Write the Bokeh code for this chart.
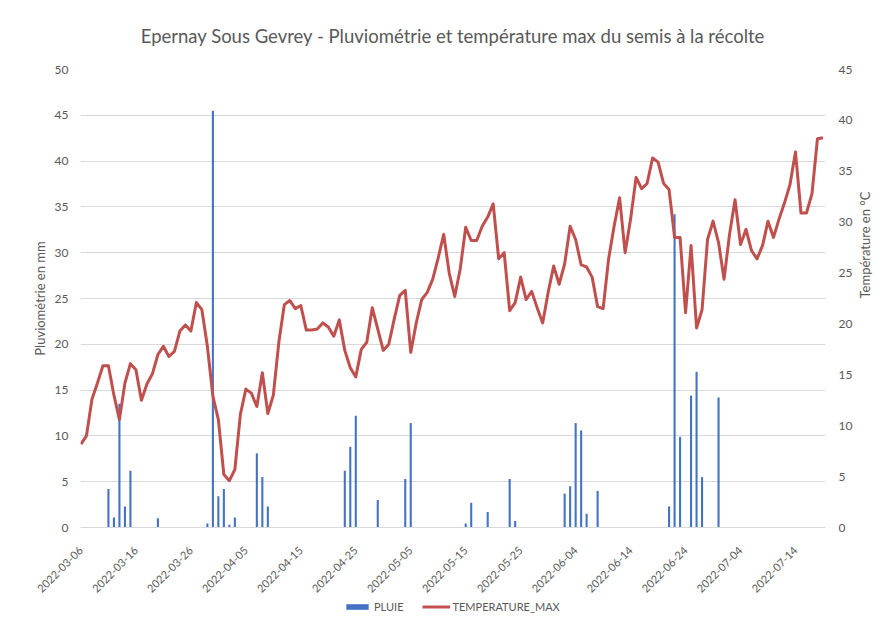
import pandas as pd
from math import pi
from bokeh.plotting import figure
from bokeh.layouts import column
from bokeh.models import (Range1d, LinearAxis, FixedTicker, DatetimeTickFormatter,
                          Legend, LegendItem, ColumnDataSource)
from bokeh.embed import file_html
from bokeh.resources import INLINE

# ---------------- data ----------------
start_date = "2022-03-06"
temp_max = [8.2, 9.0, 12.6, 14.2, 15.9, 15.9, 13.0, 10.6, 14.2, 16.1,
            15.5, 12.5, 14.1, 15.1, 17.0, 17.8, 16.8, 17.3, 19.3, 19.9,
            19.3, 22.1, 21.4, 17.8, 12.9, 10.6, 5.2, 4.6, 5.7, 11.1,
            13.6, 13.2, 11.9, 15.2, 11.2, 13.0, 18.2, 21.9, 22.3, 21.5,
            21.8, 19.4, 19.4, 19.5, 20.1, 19.7, 18.8, 20.4, 17.4, 15.7,
            14.8, 17.5, 18.2, 21.6, 19.5, 17.4, 18.0, 20.5, 22.8, 23.3,
            17.2, 20.1, 22.4, 23.1, 24.4, 26.5, 28.8, 25.0, 22.7, 25.4,
            29.5, 28.2, 28.2, 29.6, 30.5, 31.8, 26.4, 27.0, 21.3, 22.1,
            24.6, 22.4, 23.2, 21.6, 20.1, 23.1, 25.7, 23.9, 25.9, 29.6,
            28.3, 25.8, 25.6, 24.6, 21.7, 21.5, 26.4, 29.6, 32.4, 27.0,
            30.3, 34.4, 33.3, 33.8, 36.3, 35.9, 33.8, 33.2, 28.5, 28.5,
            21.1, 27.7, 19.6, 21.4, 28.3, 30.1, 28.0, 24.4, 28.8, 32.2,
            27.8, 29.3, 27.2, 26.4, 27.7, 30.1, 28.5, 30.3, 31.9, 33.7,
            36.9, 30.9, 30.9, 32.8, 38.2, 38.3]

rain_dates = ["2022-03-11", "2022-03-12", "2022-03-13", "2022-03-14", "2022-03-15",
              "2022-03-20", "2022-03-29", "2022-03-30", "2022-03-31", "2022-04-01",
              "2022-04-02", "2022-04-03", "2022-04-07", "2022-04-08", "2022-04-09",
              "2022-04-23", "2022-04-24", "2022-04-25", "2022-04-29", "2022-05-04",
              "2022-05-05", "2022-05-15", "2022-05-16", "2022-05-19", "2022-05-23",
              "2022-05-24", "2022-06-02", "2022-06-03", "2022-06-04", "2022-06-05",
              "2022-06-06", "2022-06-08", "2022-06-21", "2022-06-22", "2022-06-23",
              "2022-06-25", "2022-06-26", "2022-06-27", "2022-06-30"]
rain_mm = [4.2, 1.1, 13.5, 2.3, 6.2,
           1.0, 0.45, 45.5, 3.4, 4.2,
           0.3, 1.1, 8.1, 5.5, 2.3,
           6.2, 8.8, 12.2, 3.0, 5.3,
           11.4, 0.45, 2.7, 1.7, 5.3,
           0.7, 3.7, 4.5, 11.4, 10.6,
           1.5, 4.0, 2.3, 34.2, 9.9,
           14.4, 17.0, 5.5, 14.2]

tick_dates = ["2022-03-06", "2022-03-16", "2022-03-26", "2022-04-05", "2022-04-15",
              "2022-04-25", "2022-05-05", "2022-05-15", "2022-05-25", "2022-06-04",
              "2022-06-14", "2022-06-24", "2022-07-04", "2022-07-14"]
rain_ticks = [0, 5, 10, 15, 20, 25, 30, 35, 40, 45, 50]
temp_ticks = [0, 5, 10, 15, 20, 25, 30, 35, 40, 45]

title_text = "Epernay Sous Gevrey - Pluviométrie et température max du semis à la récolte"
left_label = "Pluviométrie en mm"
right_label = "Température en °C"
rain_name = "PLUIE"
temp_name = "TEMPERATURE_MAX"

# ---------------- build ----------------
DAY = 86400000
BAR_COLOR = "#4472C4"
LINE_COLOR = "#C0504D"
temp_dates = pd.date_range(start_date, periods=len(temp_max), freq="D")
temp_src = ColumnDataSource(dict(date=temp_dates, t=temp_max))
rain_src = ColumnDataSource(dict(date=pd.to_datetime(rain_dates), r=rain_mm))

x0 = pd.Timestamp(temp_dates[0]) - pd.Timedelta(hours=2)
x1 = pd.Timestamp(temp_dates[-1]) + pd.Timedelta(hours=11)

FONT = "Lato"
GREY = "#595959"
GRID = "#d9d9d9"

p = figure(frame_width=745, frame_height=458, x_axis_type="datetime",
           x_range=Range1d(x0, x1), y_range=Range1d(0, 50),
           output_backend="svg", toolbar_location=None,
           min_border_left=80, min_border_right=51,
           min_border_top=67, min_border_bottom=74)
p.outline_line_color = None
p.background_fill_color = "white"
p.border_fill_color = "white"

p.title.text = title_text
p.title.align = "center"
p.title.text_font = FONT
p.title.text_font_size = "18.5px"
p.title.text_font_style = "normal"
p.title.text_color = GREY
p.title.standoff = 45

p.extra_y_ranges = {"temp": Range1d(0, 45)}

bars = p.vbar(x="date", top="r", width=0.38 * DAY, source=rain_src,
              fill_color=BAR_COLOR, line_color=None)
line = p.line(x="date", y="t", source=temp_src, y_range_name="temp",
              line_color=LINE_COLOR, line_width=3, line_join="round")

# x axis
xa = p.xaxis[0]
xa.ticker = FixedTicker(ticks=[pd.Timestamp(d).value // 10**6 for d in tick_dates])
xa.formatter = DatetimeTickFormatter(days="%Y-%m-%d", months="%Y-%m-%d", years="%Y-%m-%d")
xa.major_label_orientation = pi / 4
xa.major_label_text_font = FONT
xa.major_label_text_font_size = "11px"
xa.major_label_text_color = GREY
xa.major_label_standoff = 15
xa.major_tick_out = 6
xa.axis_line_color = GRID
xa.major_tick_line_color = None
xa.minor_tick_line_color = None

# left axis
ya = p.yaxis[0]
ya.ticker = FixedTicker(ticks=rain_ticks)
ya.axis_label = left_label
ya.axis_label_text_font = FONT
ya.axis_label_text_font_size = "13px"
ya.axis_label_text_font_style = "normal"
ya.axis_label_text_color = GREY
ya.axis_label_standoff = 4
ya.major_label_text_font = FONT
ya.major_label_text_font_size = "12px"
ya.major_label_text_color = GREY
ya.major_label_standoff = 12
ya.major_tick_out = 0
ya.major_tick_in = 0
ya.axis_line_color = None
ya.major_tick_line_color = None
ya.minor_tick_line_color = None

# right axis
ra = LinearAxis(y_range_name="temp", ticker=FixedTicker(ticks=temp_ticks))
ra.axis_label = right_label
ra.axis_label_text_font = FONT
ra.axis_label_text_font_size = "13px"
ra.axis_label_text_font_style = "normal"
ra.axis_label_text_color = GREY
ra.axis_label_standoff = 10
ra.major_label_text_font = FONT
ra.major_label_text_font_size = "12px"
ra.major_label_text_color = GREY
ra.major_label_standoff = 13
ra.major_tick_out = 0
ra.major_tick_in = 0
ra.axis_line_color = None
ra.major_tick_line_color = None
ra.minor_tick_line_color = None
try:
    ra.axis_label_orientation = pi / 2
except Exception:
    pass
p.add_layout(ra, "right")

p.xgrid.grid_line_color = None
p.ygrid.grid_line_color = GRID
p.ygrid.ticker = FixedTicker(ticks=rain_ticks)

# ---------------- legend strip (proxy renderers kept out of view) ----------------
lg = figure(width=876, height=22, x_axis_type="datetime",
            x_range=Range1d(x0, x1), y_range=Range1d(1000, 1001),
            output_backend="svg", toolbar_location=None,
            x_axis_location=None, y_axis_location=None,
            min_border=0, min_border_left=0, min_border_right=0,
            min_border_top=0, min_border_bottom=0)
lg.outline_line_color = None
lg.xgrid.visible = False
lg.ygrid.visible = False
lg_bar = lg.vbar(x="date", top="r", width=0.38 * DAY, source=rain_src,
                 fill_color=BAR_COLOR, line_color=None)
lg_line = lg.line(x="date", y="t", source=temp_src,
                  line_color=LINE_COLOR, line_width=3)

legend = Legend(items=[LegendItem(label=rain_name, renderers=[lg_bar]),
                       LegendItem(label=temp_name, renderers=[lg_line])],
                orientation="horizontal", location=(263, 10))
legend.label_text_font = FONT
legend.label_text_font_size = "11px"
legend.label_text_color = GREY
legend.glyph_width = 28
legend.glyph_height = 7
legend.label_standoff = 3
legend.spacing = 18
legend.padding = 2
legend.margin = 0
legend.border_line_color = None
legend.background_fill_alpha = 0
lg.add_layout(legend)

open("out.html", "w").write(file_html(column(p, lg, spacing=0), INLINE))
